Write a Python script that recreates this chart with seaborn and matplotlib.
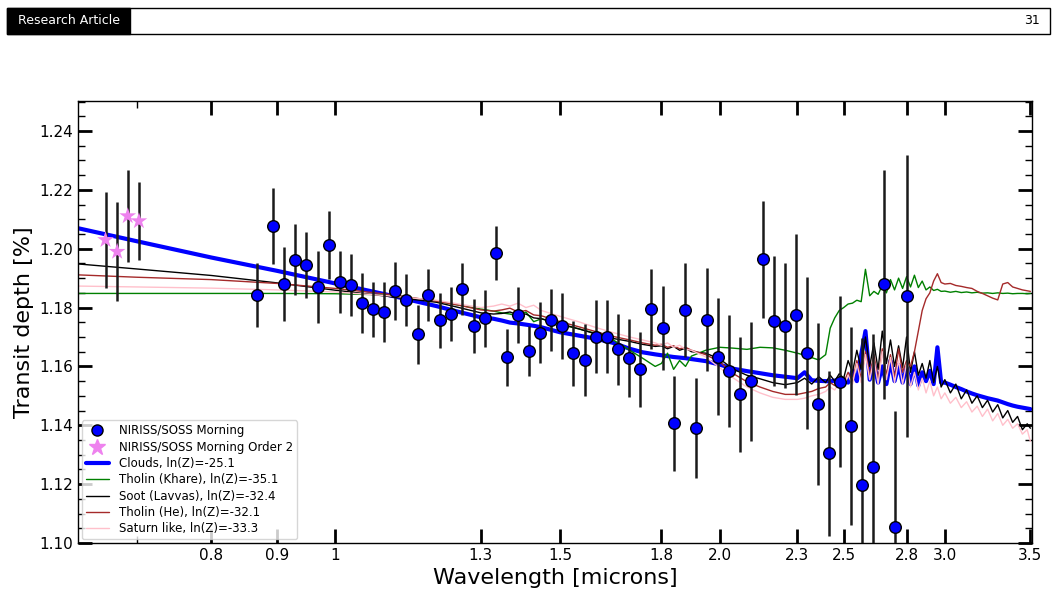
import numpy as np
import pandas as pd
import matplotlib
matplotlib.use("Agg")
import matplotlib.pyplot as plt
from matplotlib.patches import Rectangle
from matplotlib.lines import Line2D
import seaborn as sns

# ---- observed spectrum (NIRISS/SOSS, order 1) ----
obs_wl = [0.869, 0.894, 0.912, 0.930, 0.949, 0.969, 0.988, 1.008, 1.029, 1.050,
          1.071, 1.092, 1.114, 1.137, 1.160, 1.183, 1.207, 1.231, 1.257, 1.283,
          1.309, 1.335, 1.362, 1.390, 1.418, 1.447, 1.476, 1.506, 1.536, 1.568,
          1.599, 1.631, 1.665, 1.698, 1.732, 1.768, 1.804, 1.840, 1.877, 1.915,
          1.954, 1.993, 2.033, 2.075, 2.117, 2.160, 2.203, 2.249, 2.294, 2.340,
          2.387, 2.435, 2.483, 2.534, 2.584, 2.636, 2.690, 2.744, 2.801]
obs_depth = [1.1843, 1.2077, 1.1880, 1.1962, 1.1945, 1.1869, 1.2013, 1.1888, 1.1877, 1.1814,
             1.1794, 1.1785, 1.1857, 1.1826, 1.1709, 1.1842, 1.1757, 1.1778, 1.1862, 1.1736,
             1.1763, 1.1986, 1.1631, 1.1775, 1.1653, 1.1715, 1.1757, 1.1737, 1.1645, 1.1621,
             1.1701, 1.1701, 1.1658, 1.1628, 1.1590, 1.1795, 1.1731, 1.1407, 1.1792, 1.1392,
             1.1759, 1.1633, 1.1584, 1.1505, 1.1550, 1.1964, 1.1754, 1.1738, 1.1776, 1.1645,
             1.1471, 1.1305, 1.1548, 1.1398, 1.1198, 1.1259, 1.1879, 1.1053, 1.1839]
obs_err = [0.0110, 0.0128, 0.0127, 0.0121, 0.0112, 0.0123, 0.0115, 0.0105, 0.0104, 0.0102,
           0.0094, 0.0102, 0.0099, 0.0089, 0.0100, 0.0089, 0.0094, 0.0091, 0.0088, 0.0092,
           0.0096, 0.0091, 0.0096, 0.0096, 0.0085, 0.0105, 0.0106, 0.0113, 0.0110, 0.0123,
           0.0125, 0.0125, 0.0120, 0.0132, 0.0128, 0.0135, 0.0143, 0.0161, 0.0159, 0.0170,
           0.0174, 0.0198, 0.0190, 0.0196, 0.0202, 0.0199, 0.0221, 0.0212, 0.0274, 0.0258,
           0.0275, 0.0281, 0.0290, 0.0337, 0.0500, 0.0450, 0.0390, 0.0397, 0.0480]

# ---- order 2 ----
o2_wl = [0.661, 0.675, 0.688, 0.702]
o2_depth = [1.2030, 1.1990, 1.2111, 1.2094]
o2_err = [0.0164, 0.0168, 0.0157, 0.0132]

# ---- model spectra on a shared wavelength grid ----
model_wl = [0.63, 0.70, 0.80, 0.90, 1.00, 1.10, 1.20, 1.25, 1.30, 1.33,
            1.35, 1.37, 1.39, 1.41, 1.43, 1.45, 1.50, 1.55, 1.60, 1.65,
            1.70, 1.74, 1.78, 1.80, 1.82, 1.84, 1.86, 1.88, 1.90, 1.95,
            2.00, 2.05, 2.10, 2.15, 2.20, 2.25, 2.30, 2.33, 2.36, 2.39,
            2.42, 2.44, 2.46, 2.48, 2.50, 2.52, 2.54, 2.56, 2.58, 2.60,
            2.62, 2.64, 2.66, 2.68, 2.70, 2.72, 2.74, 2.76, 2.78, 2.80,
            2.82, 2.84, 2.86, 2.88, 2.90, 2.92, 2.94, 2.96, 2.98, 3.00,
            3.03, 3.06, 3.09, 3.12, 3.15, 3.18, 3.21, 3.24, 3.27, 3.30,
            3.33, 3.36, 3.39, 3.42, 3.45, 3.48, 3.50]

clouds = [1.2069, 1.2025, 1.1970, 1.1925, 1.1882, 1.1843, 1.1805, 1.1785, 1.1767, 1.1762,
          1.1756, 1.1749, 1.1746, 1.1742, 1.1738, 1.1733, 1.1716, 1.1705, 1.1694, 1.1680,
          1.1660, 1.1648, 1.1641, 1.1638, 1.1635, 1.1632, 1.1630, 1.1628, 1.1625, 1.1618,
          1.1606, 1.1592, 1.1584, 1.1577, 1.1570, 1.1565, 1.1560, 1.1580, 1.1553, 1.1551,
          1.1550, 1.1549, 1.1552, 1.1548, 1.1556, 1.1545, 1.1585, 1.1550, 1.1640, 1.1720,
          1.1555, 1.1610, 1.1545, 1.1600, 1.1540, 1.1620, 1.1550, 1.1605, 1.1545, 1.1595,
          1.1540, 1.1600, 1.1535, 1.1580, 1.1550, 1.1585, 1.1540, 1.1665, 1.1545, 1.1545,
          1.1538, 1.1530, 1.1523, 1.1515, 1.1508, 1.1502, 1.1497, 1.1492, 1.1488, 1.1484,
          1.1478, 1.1472, 1.1467, 1.1463, 1.1460, 1.1457, 1.1455]

tholin_khare = [1.1848, 1.1848, 1.1848, 1.1848, 1.1847, 1.1843, 1.1822, 1.1808, 1.1795, 1.1788,
                1.1782, 1.1778, 1.1770, 1.1785, 1.1752, 1.1762, 1.1742, 1.1728, 1.1712, 1.1690,
                1.1655, 1.1628, 1.1600, 1.1610, 1.1645, 1.1590, 1.1620, 1.1600, 1.1635, 1.1655,
                1.1665, 1.1662, 1.1658, 1.1665, 1.1663, 1.1655, 1.1645, 1.1638, 1.1630, 1.1622,
                1.1640, 1.1730, 1.1765, 1.1790, 1.1800, 1.1812, 1.1815, 1.1825, 1.1820, 1.1930,
                1.1840, 1.1855, 1.1845, 1.1875, 1.1850, 1.1895, 1.1860, 1.1900, 1.1865, 1.1905,
                1.1870, 1.1910, 1.1868, 1.1890, 1.1860, 1.1870, 1.1858, 1.1862, 1.1855, 1.1856,
                1.1852, 1.1855, 1.1851, 1.1853, 1.1850, 1.1852, 1.1849, 1.1850, 1.1848, 1.1850,
                1.1848, 1.1849, 1.1847, 1.1848, 1.1848, 1.1847, 1.1848]

soot = [1.1948, 1.1931, 1.1909, 1.1884, 1.1859, 1.1838, 1.1818, 1.1800, 1.1782, 1.1778,
        1.1780, 1.1785, 1.1775, 1.1778, 1.1765, 1.1762, 1.1745, 1.1728, 1.1710, 1.1695,
        1.1685, 1.1675, 1.1668, 1.1670, 1.1660, 1.1668, 1.1655, 1.1662, 1.1650, 1.1645,
        1.1625, 1.1590, 1.1570, 1.1558, 1.1545, 1.1538, 1.1545, 1.1560, 1.1540, 1.1565,
        1.1545, 1.1570, 1.1550, 1.1575, 1.1560, 1.1620, 1.1580, 1.1655, 1.1590, 1.1700,
        1.1600, 1.1680, 1.1590, 1.1720, 1.1610, 1.1690, 1.1600, 1.1670, 1.1595, 1.1700,
        1.1580, 1.1650, 1.1570, 1.1610, 1.1560, 1.1620, 1.1545, 1.1600, 1.1530, 1.1555,
        1.1510, 1.1540, 1.1490, 1.1520, 1.1475, 1.1500, 1.1460, 1.1485, 1.1445, 1.1470,
        1.1425, 1.1450, 1.1410, 1.1430, 1.1385, 1.1405, 1.1390]

tholin_he = [1.1911, 1.1903, 1.1895, 1.1882, 1.1865, 1.1845, 1.1822, 1.1808, 1.1792, 1.1788,
             1.1792, 1.1798, 1.1785, 1.1790, 1.1775, 1.1772, 1.1752, 1.1735, 1.1718, 1.1702,
             1.1690, 1.1680, 1.1672, 1.1675, 1.1665, 1.1670, 1.1660, 1.1665, 1.1655, 1.1640,
             1.1615, 1.1575, 1.1548, 1.1530, 1.1515, 1.1505, 1.1505, 1.1510, 1.1515, 1.1525,
             1.1530, 1.1545, 1.1535, 1.1555, 1.1545, 1.1580, 1.1550, 1.1620, 1.1560, 1.1650,
             1.1570, 1.1640, 1.1555, 1.1660, 1.1570, 1.1640, 1.1560, 1.1660, 1.1580, 1.1620,
             1.1600, 1.1650, 1.1720, 1.1790, 1.1830, 1.1850, 1.1890, 1.1915, 1.1885, 1.1880,
             1.1882, 1.1875, 1.1872, 1.1868, 1.1865, 1.1855, 1.1848, 1.1840, 1.1832, 1.1826,
             1.1880, 1.1885, 1.1870, 1.1865, 1.1860, 1.1857, 1.1855]

saturn = [1.1873, 1.1870, 1.1866, 1.1860, 1.1853, 1.1840, 1.1825, 1.1812, 1.1800, 1.1805,
          1.1812, 1.1805, 1.1815, 1.1800, 1.1808, 1.1790, 1.1770, 1.1752, 1.1732, 1.1715,
          1.1700, 1.1690, 1.1680, 1.1672, 1.1680, 1.1665, 1.1672, 1.1658, 1.1655, 1.1632,
          1.1595, 1.1560, 1.1530, 1.1510, 1.1495, 1.1488, 1.1488, 1.1492, 1.1500, 1.1505,
          1.1515, 1.1530, 1.1520, 1.1545, 1.1530, 1.1570, 1.1540, 1.1610, 1.1545, 1.1640,
          1.1555, 1.1625, 1.1540, 1.1650, 1.1555, 1.1630, 1.1545, 1.1620, 1.1540, 1.1610,
          1.1530, 1.1580, 1.1520, 1.1560, 1.1510, 1.1550, 1.1500, 1.1530, 1.1490, 1.1510,
          1.1475, 1.1495, 1.1460, 1.1480, 1.1445, 1.1465, 1.1430, 1.1455, 1.1415, 1.1440,
          1.1400, 1.1420, 1.1390, 1.1405, 1.1370, 1.1385, 1.1345]

models = [
    ("Clouds, ln(Z)=-25.1", clouds, "blue", 3.0),
    ("Tholin (Khare), ln(Z)=-35.1", tholin_khare, "green", 1.0),
    ("Soot (Lavvas), ln(Z)=-32.4", soot, "black", 1.0),
    ("Tholin (He), ln(Z)=-32.1", tholin_he, "brown", 1.0),
    ("Saturn like, ln(Z)=-33.3", saturn, "pink", 1.0),
]

xticks = [0.8, 0.9, 1, 1.3, 1.5, 1.8, 2.0, 2.3, 2.5, 2.8, 3.0, 3.5]
xtick_labels = ["0.8", "0.9", "1", "1.3", "1.5", "1.8", "2.0", "2.3", "2.5", "2.8", "3.0", "3.5"]

sns.set_style("ticks")
plt.rcParams['font.family'] = ['DejaVu Sans']
plt.rcParams.update({"text.color": "black", "axes.labelcolor": "black",
                     "xtick.color": "black", "ytick.color": "black",
                     "axes.edgecolor": "black"})

fig = plt.figure(figsize=(10.58, 5.95), dpi=100)
ax = fig.add_axes([0.0737, 0.0874, 0.9017, 0.7429])

handles = []
obs_df = pd.DataFrame({"wl": obs_wl, "depth": obs_depth, "err": obs_err})
o2_df = pd.DataFrame({"wl": o2_wl, "depth": o2_depth, "err": o2_err})

# model curves
for label, depth, color, lw in models:
    mdf = pd.DataFrame({"wl": model_wl, "depth": depth})
    sns.lineplot(data=mdf, x="wl", y="depth", color=color, lw=lw, sort=False,
                 estimator=None, ax=ax, zorder=2)
    handles.append(Line2D([], [], color=color, lw=lw, label=label))

# data with error bars
ax.errorbar(obs_df["wl"], obs_df["depth"], yerr=obs_df["err"], fmt="none",
            ecolor="#1a1a1a", elinewidth=1.8, capsize=0, zorder=3)
ax.errorbar(o2_df["wl"], o2_df["depth"], yerr=o2_df["err"], fmt="none",
            ecolor="#1a1a1a", elinewidth=1.8, capsize=0, zorder=3)
sns.scatterplot(data=obs_df, x="wl", y="depth", color="blue", edgecolor="black",
                linewidth=1, s=70, ax=ax, zorder=4)
sns.scatterplot(data=o2_df, x="wl", y="depth", color="violet", marker="*",
                edgecolor="none", s=160, ax=ax, zorder=4)

h_obs = Line2D([], [], ls="none", marker="o", markersize=8, markerfacecolor="blue",
               markeredgecolor="black", label="NIRISS/SOSS Morning")
h_o2 = Line2D([], [], ls="none", marker="*", markersize=12, markerfacecolor="violet",
              markeredgecolor="violet", label="NIRISS/SOSS Morning Order 2")
ax.legend(handles=[h_obs, h_o2] + handles, loc="lower left", fontsize=8.5,
          frameon=True, borderaxespad=0.3, labelspacing=0.28, borderpad=0.35)

ax.set_xscale("log")
ax.set_xlim(0.629, 3.51)
ax.set_ylim(1.10, 1.2502)
ax.set_xticks(xticks)
ax.set_xticklabels(xtick_labels)
ax.set_yticks(np.arange(1.10, 1.241, 0.02))
ax.set_yticks(np.arange(1.10, 1.2501, 0.005), minor=True)
ax.yaxis.set_major_formatter(matplotlib.ticker.FormatStrFormatter("%.2f"))
ax.tick_params(which="both", direction="in", top=True, right=True, labelsize=11,
               colors="black")
ax.tick_params(which="major", length=10, width=2)
ax.tick_params(which="minor", length=5, width=1)
ax.set_xlabel("Wavelength [microns]", fontsize=16, color="black")
ax.set_ylabel("Transit depth [%]", fontsize=16, color="black")
for sp in ax.spines.values():
    sp.set_linewidth(1.0)
    sp.set_color("black")

# page header band
W, H = 1058.0, 595.0
fig.patches.append(Rectangle((7 / W, 1 - 34 / H), (1050 - 7) / W, 26 / H,
                             transform=fig.transFigure, facecolor="white",
                             edgecolor="black", lw=1))
fig.patches.append(Rectangle((7 / W, 1 - 34 / H), (130 - 7) / W, 26 / H,
                             transform=fig.transFigure, facecolor="black",
                             edgecolor="black", lw=1))
fig.text(18 / W, 1 - 21 / H, "Research Article", color="white", fontsize=9,
         va="center", ha="left")
fig.text(1040 / W, 1 - 21 / H, "31", color="black", fontsize=9,
         va="center", ha="right")

fig.savefig("out.png", dpi=100)
